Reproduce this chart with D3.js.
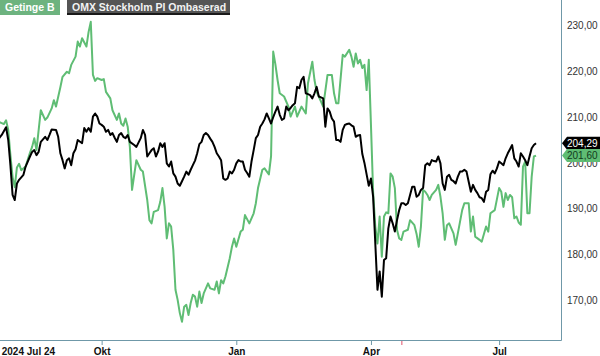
<!DOCTYPE html>
<html>
<head>
<meta charset="utf-8">
<script src="https://d3js.org/d3.v7.min.js"></script>
<style>
  body { margin: 0; background: #fff; }
  svg { display: block; font-family: "Liberation Sans", Arial, sans-serif; }
</style>
</head>
<body>
<div id="chart"></div>
<script>
// trading days closed in Stockholm within the period
const holidays = ['2024-12-24', '2024-12-25', '2024-12-26', '2024-12-31', '2025-01-01', '2025-01-06',
  '2025-04-18', '2025-04-21', '2025-05-01', '2025-05-29', '2025-06-06', '2025-06-20']

const tickDates = ['2024-07-24', '2024-10-01', '2025-01-02', '2025-04-01', '2025-07-01']
const tickLabels = ['2024 Jul 24', 'Okt', 'Jan', 'Apr', 'Jul']
const yTicks = [170, 180, 190, 200, 210, 220, 230]
const eventDates = ['2025-04-23']

const seriesNames = ['Getinge B', 'OMX Stockholm PI Ombaserad']

// Getinge B (SEK)
const getinge = [
  ['2024-07-24', 209.2], ['2024-07-26', 208.9], ['2024-07-29', 208.7], ['2024-07-30', 208.5], ['2024-07-31', 209.3],
  ['2024-08-01', 207.2], ['2024-08-02', 201.7], ['2024-08-05', 196.9], ['2024-08-06', 194.7], ['2024-08-07', 199.0],
  ['2024-08-08', 199.8], ['2024-08-09', 198.4], ['2024-08-13', 199.2], ['2024-08-15', 202.2], ['2024-08-16', 203.5],
  ['2024-08-19', 205.4], ['2024-08-20', 202.8], ['2024-08-22', 211.5], ['2024-08-26', 209.4], ['2024-08-27', 209.9],
  ['2024-08-29', 211.9], ['2024-08-30', 213.7], ['2024-09-02', 212.3], ['2024-09-04', 216.5], ['2024-09-05', 218.8],
  ['2024-09-09', 219.9], ['2024-09-10', 219.6], ['2024-09-11', 221.4], ['2024-09-13', 223.2], ['2024-09-16', 226.5],
  ['2024-09-17', 225.4], ['2024-09-18', 227.2], ['2024-09-20', 225.4], ['2024-09-23', 228.6], ['2024-09-24', 230.8],
  ['2024-09-25', 219.2], ['2024-09-26', 217.9], ['2024-09-27', 218.5], ['2024-10-01', 218.1], ['2024-10-02', 218.3],
  ['2024-10-03', 215.5], ['2024-10-07', 214.1], ['2024-10-08', 211.5], ['2024-10-10', 209.4], ['2024-10-11', 210.8],
  ['2024-10-14', 208.6], ['2024-10-15', 208.1], ['2024-10-16', 209.7], ['2024-10-17', 207.9], ['2024-10-18', 203.5],
  ['2024-10-21', 194.1], ['2024-10-23', 200.6], ['2024-10-25', 198.5], ['2024-10-28', 198.1], ['2024-10-30', 191.9],
  ['2024-10-31', 187.5], ['2024-11-01', 186.8], ['2024-11-04', 189.3], ['2024-11-06', 189.7], ['2024-11-07', 191.5],
  ['2024-11-08', 194.5], ['2024-11-11', 190.4], ['2024-11-12', 183.5], ['2024-11-13', 186.8], ['2024-11-14', 186.1],
  ['2024-11-15', 181.0], ['2024-11-18', 172.3], ['2024-11-19', 170.1], ['2024-11-20', 167.2], ['2024-11-21', 165.3],
  ['2024-11-22', 168.6], ['2024-11-25', 169.0], ['2024-11-26', 166.8], ['2024-11-27', 169.4], ['2024-11-28', 171.2],
  ['2024-11-29', 170.8], ['2024-12-02', 168.6], ['2024-12-03', 171.9], ['2024-12-04', 169.4], ['2024-12-05', 171.5],
  ['2024-12-09', 173.7], ['2024-12-10', 172.6], ['2024-12-12', 172.3], ['2024-12-13', 174.1], ['2024-12-16', 171.5],
  ['2024-12-17', 174.4], ['2024-12-18', 173.7], ['2024-12-19', 175.2], ['2024-12-23', 179.2], ['2024-12-27', 181.7],
  ['2024-12-30', 183.5], ['2025-01-02', 181.7], ['2025-01-07', 185.0], ['2025-01-08', 185.4], ['2025-01-09', 188.6],
  ['2025-01-13', 186.8], ['2025-01-15', 189.0], ['2025-01-16', 191.2], ['2025-01-17', 194.5], ['2025-01-21', 198.5],
  ['2025-01-22', 198.8], ['2025-01-24', 197.5], ['2025-01-27', 201.4], ['2025-01-28', 224.3], ['2025-01-29', 221.5],
  ['2025-01-30', 218.1], ['2025-01-31', 215.2], ['2025-02-04', 214.5], ['2025-02-06', 212.3], ['2025-02-07', 210.1],
  ['2025-02-11', 212.3], ['2025-02-12', 210.1], ['2025-02-14', 212.3], ['2025-02-18', 210.8], ['2025-02-19', 217.4],
  ['2025-02-21', 222.1], ['2025-02-24', 218.1], ['2025-02-25', 215.5], ['2025-02-27', 213.4], ['2025-02-28', 212.3],
  ['2025-03-04', 219.2], ['2025-03-06', 219.2], ['2025-03-07', 215.2], ['2025-03-10', 213.0], ['2025-03-11', 213.0],
  ['2025-03-13', 223.6], ['2025-03-14', 223.2], ['2025-03-18', 224.7], ['2025-03-19', 223.2], ['2025-03-20', 221.0],
  ['2025-03-21', 223.9], ['2025-03-24', 221.7], ['2025-03-25', 222.5], ['2025-03-26', 220.7], ['2025-03-27', 221.4],
  ['2025-03-28', 215.9], ['2025-03-31', 222.5], ['2025-04-01', 208.3], ['2025-04-02', 193.6], ['2025-04-03', 186.1],
  ['2025-04-04', 182.4], ['2025-04-07', 188.3], ['2025-04-08', 179.5], ['2025-04-09', 188.3], ['2025-04-10', 189.2],
  ['2025-04-11', 189.0], ['2025-04-14', 197.7], ['2025-04-15', 197.0], ['2025-04-16', 194.5], ['2025-04-17', 185.4],
  ['2025-04-22', 183.5], ['2025-04-23', 183.2], ['2025-04-24', 185.0], ['2025-04-28', 185.4], ['2025-04-29', 187.5],
  ['2025-05-02', 186.4], ['2025-05-05', 184.5], ['2025-05-06', 181.7], ['2025-05-07', 186.1], ['2025-05-08', 194.1],
  ['2025-05-09', 193.7], ['2025-05-12', 193.0], ['2025-05-13', 191.9], ['2025-05-14', 193.0], ['2025-05-16', 194.1],
  ['2025-05-19', 195.2], ['2025-05-20', 192.6], ['2025-05-21', 189.0], ['2025-05-22', 183.2], ['2025-05-23', 186.4],
  ['2025-05-26', 186.8], ['2025-05-28', 184.6], ['2025-05-30', 182.1], ['2025-06-02', 184.6], ['2025-06-04', 189.7],
  ['2025-06-05', 191.2], ['2025-06-10', 191.2], ['2025-06-11', 185.0], ['2025-06-12', 188.3], ['2025-06-13', 183.9],
  ['2025-06-17', 183.2], ['2025-06-18', 182.8], ['2025-06-23', 186.1], ['2025-06-24', 185.0], ['2025-06-25', 189.0],
  ['2025-06-27', 189.7], ['2025-07-01', 194.5], ['2025-07-02', 193.7], ['2025-07-03', 190.4], ['2025-07-04', 193.4],
  ['2025-07-07', 191.9], ['2025-07-08', 193.0], ['2025-07-09', 192.5], ['2025-07-10', 187.9], ['2025-07-11', 188.3],
  ['2025-07-14', 187.0], ['2025-07-15', 186.5], ['2025-07-16', 199.2], ['2025-07-17', 200.3], ['2025-07-18', 189.0],
  ['2025-07-21', 189.0], ['2025-07-22', 197.0], ['2025-07-23', 201.4], ['2025-07-24', 201.6]
]

// OMX Stockholm PI, rebased to Getinge
const omx = [
  ['2024-07-24', 204.5], ['2024-07-26', 205.5], ['2024-07-29', 206.1], ['2024-07-31', 207.8], ['2024-08-01', 205.0],
  ['2024-08-02', 199.5], ['2024-08-05', 193.0], ['2024-08-06', 191.9], ['2024-08-07', 195.5], ['2024-08-08', 196.3],
  ['2024-08-12', 197.4], ['2024-08-13', 199.2], ['2024-08-15', 201.4], ['2024-08-16', 202.4], ['2024-08-19', 202.8],
  ['2024-08-20', 201.7], ['2024-08-21', 202.4], ['2024-08-22', 204.6], ['2024-08-26', 205.7], ['2024-08-27', 205.0],
  ['2024-08-28', 206.1], ['2024-08-29', 207.3], ['2024-09-02', 207.2], ['2024-09-03', 205.7], ['2024-09-04', 202.1],
  ['2024-09-05', 200.6], ['2024-09-06', 198.8], ['2024-09-09', 200.6], ['2024-09-10', 201.0], ['2024-09-11', 199.5],
  ['2024-09-12', 202.1], ['2024-09-13', 203.0], ['2024-09-16', 205.0], ['2024-09-18', 204.3], ['2024-09-19', 207.6],
  ['2024-09-20', 206.8], ['2024-09-23', 207.6], ['2024-09-24', 206.8], ['2024-09-25', 210.1], ['2024-09-26', 210.8],
  ['2024-09-27', 210.1], ['2024-09-30', 208.6], ['2024-10-01', 208.3], ['2024-10-02', 207.9], ['2024-10-03', 206.8],
  ['2024-10-04', 207.2], ['2024-10-07', 206.1], ['2024-10-08', 206.5], ['2024-10-09', 205.5], ['2024-10-10', 204.6],
  ['2024-10-11', 206.1], ['2024-10-14', 206.5], ['2024-10-15', 205.7], ['2024-10-16', 205.4], ['2024-10-17', 206.1],
  ['2024-10-18', 204.6], ['2024-10-22', 203.9], ['2024-10-23', 203.5], ['2024-10-25', 205.4], ['2024-10-28', 207.2],
  ['2024-10-29', 206.1], ['2024-10-30', 201.4], ['2024-10-31', 202.1], ['2024-11-01', 202.8], ['2024-11-04', 203.2],
  ['2024-11-05', 201.4], ['2024-11-06', 202.5], ['2024-11-07', 204.3], ['2024-11-08', 203.5], ['2024-11-11', 204.3],
  ['2024-11-12', 199.9], ['2024-11-13', 199.2], ['2024-11-14', 200.3], ['2024-11-15', 197.7], ['2024-11-18', 197.0],
  ['2024-11-19', 195.5], ['2024-11-20', 195.0], ['2024-11-21', 196.0], ['2024-11-22', 197.0], ['2024-11-25', 198.1],
  ['2024-11-26', 197.4], ['2024-11-27', 198.5], ['2024-11-28', 199.5], ['2024-11-29', 200.5], ['2024-12-02', 202.1],
  ['2024-12-03', 204.1], ['2024-12-04', 204.6], ['2024-12-05', 206.1], ['2024-12-06', 206.5], ['2024-12-09', 206.1],
  ['2024-12-10', 205.3], ['2024-12-11', 204.6], ['2024-12-12', 203.5], ['2024-12-13', 202.1], ['2024-12-16', 201.4],
  ['2024-12-17', 200.6], ['2024-12-18', 196.6], ['2024-12-19', 196.3], ['2024-12-20', 196.6], ['2024-12-23', 198.1],
  ['2024-12-27', 197.7], ['2024-12-30', 198.5], ['2025-01-02', 199.9], ['2025-01-03', 200.6], ['2025-01-07', 200.3],
  ['2025-01-08', 200.3], ['2025-01-09', 198.5], ['2025-01-10', 197.8], ['2025-01-13', 197.0], ['2025-01-14', 200.3],
  ['2025-01-15', 202.8], ['2025-01-16', 205.4], ['2025-01-17', 206.1], ['2025-01-20', 207.9], ['2025-01-21', 208.6],
  ['2025-01-22', 209.5], ['2025-01-23', 210.8], ['2025-01-24', 209.7], ['2025-01-27', 208.6], ['2025-01-28', 210.0],
  ['2025-01-29', 211.2], ['2025-01-30', 212.3], ['2025-01-31', 210.5], ['2025-02-03', 209.4], ['2025-02-04', 209.7],
  ['2025-02-05', 212.3], ['2025-02-06', 211.5], ['2025-02-07', 212.0], ['2025-02-10', 212.6], ['2025-02-11', 213.0],
  ['2025-02-12', 216.6], ['2025-02-13', 216.3], ['2025-02-14', 218.1], ['2025-02-17', 218.8], ['2025-02-18', 215.2],
  ['2025-02-19', 215.0], ['2025-02-20', 214.8], ['2025-02-21', 214.1], ['2025-02-24', 215.2], ['2025-02-25', 216.6],
  ['2025-02-26', 214.5], ['2025-02-27', 214.3], ['2025-02-28', 214.1], ['2025-03-03', 207.9], ['2025-03-04', 211.9],
  ['2025-03-05', 211.2], ['2025-03-06', 209.7], ['2025-03-07', 209.0], ['2025-03-10', 205.0], ['2025-03-11', 205.0],
  ['2025-03-12', 204.6], ['2025-03-13', 207.2], ['2025-03-14', 208.3], ['2025-03-17', 208.5], ['2025-03-18', 208.6],
  ['2025-03-19', 208.2], ['2025-03-20', 207.9], ['2025-03-21', 205.7], ['2025-03-24', 206.0], ['2025-03-25', 206.1],
  ['2025-03-26', 202.0], ['2025-03-27', 200.0], ['2025-03-28', 197.5], ['2025-03-31', 195.0], ['2025-04-01', 196.6],
  ['2025-04-02', 192.6], ['2025-04-03', 182.4], ['2025-04-04', 172.3], ['2025-04-07', 176.3], ['2025-04-08', 170.8],
  ['2025-04-09', 178.8], ['2025-04-10', 179.2], ['2025-04-11', 185.7], ['2025-04-14', 188.3], ['2025-04-15', 186.8],
  ['2025-04-16', 185.0], ['2025-04-17', 187.5], ['2025-04-22', 189.7], ['2025-04-23', 191.2], ['2025-04-24', 191.2],
  ['2025-04-25', 190.8], ['2025-04-28', 191.2], ['2025-04-29', 193.0], ['2025-04-30', 194.8], ['2025-05-02', 194.8],
  ['2025-05-05', 192.6], ['2025-05-06', 193.0], ['2025-05-07', 194.1], ['2025-05-08', 194.5], ['2025-05-09', 199.5],
  ['2025-05-12', 199.9], ['2025-05-13', 199.5], ['2025-05-14', 200.6], ['2025-05-15', 200.4], ['2025-05-16', 200.3],
  ['2025-05-19', 201.4], ['2025-05-20', 199.9], ['2025-05-21', 195.5], ['2025-05-22', 194.1], ['2025-05-23', 197.0],
  ['2025-05-26', 197.4], ['2025-05-27', 196.3], ['2025-05-28', 196.0], ['2025-05-30', 195.5], ['2025-06-02', 197.0],
  ['2025-06-03', 198.1], ['2025-06-04', 198.1], ['2025-06-05', 198.5], ['2025-06-09', 198.1], ['2025-06-10', 195.9],
  ['2025-06-11', 193.7], ['2025-06-12', 195.2], ['2025-06-13', 194.1], ['2025-06-16', 193.4], ['2025-06-17', 192.5],
  ['2025-06-18', 192.3], ['2025-06-19', 191.5], ['2025-06-23', 193.7], ['2025-06-24', 194.1], ['2025-06-25', 197.5],
  ['2025-06-26', 198.3], ['2025-06-27', 197.7], ['2025-06-30', 198.8], ['2025-07-01', 200.3], ['2025-07-02', 199.9],
  ['2025-07-03', 199.5], ['2025-07-04', 201.0], ['2025-07-07', 202.1], ['2025-07-08', 203.0], ['2025-07-09', 203.9],
  ['2025-07-10', 201.0], ['2025-07-11', 200.3], ['2025-07-14', 199.2], ['2025-07-15', 202.1], ['2025-07-16', 201.4],
  ['2025-07-17', 200.6], ['2025-07-18', 199.5], ['2025-07-21', 201.4], ['2025-07-22', 203.2], ['2025-07-23', 203.9],
  ['2025-07-24', 204.29]
]

;(() => {
  let svg = null
  let plot = null
  let xScale = null
  let yScale = null
  let days = []

  const width = 600
  const height = 356
  const plotW = 561
  const plotH = 340
  const green = '#5fbd74'
  const axisColor = '#6f98a8'
  const svFormat = d3.formatLocale({decimal: ',', thousands: ' ', grouping: [3], currency: ['', ' kr']}).format(',.2f')

  const init = () => {
    // börsdagar: vardagar utom helgdagar
    const fmt = d3.utcFormat('%Y-%m-%d')
    days = d3.utcDays(new Date(Date.UTC(2024, 6, 24)), new Date(Date.UTC(2025, 7, 12)))
      .filter(d => d.getUTCDay() !== 0 && d.getUTCDay() !== 6)
      .map(fmt)
      .filter(d => !holidays.includes(d))

    svg = d3.select('#chart')
      .append('svg')
      .attr('width', width)
      .attr('height', height)

    svg.append('defs').append('clipPath').attr('id', 'clip')
      .append('rect').attr('x', 0).attr('y', 0).attr('width', plotW).attr('height', plotH)

    xScale = d3.scalePoint()
      .domain(days)
      .range([-4.8, -4.8 + (days.length - 1) * 2.172])
    yScale = d3.scaleLinear()
      .domain([170, 230])
      .range([300.3, 25.5])
  }

  const drawAxis = () => {
    // y-axel till höger
    const yAxis = d3.axisRight(yScale)
      .tickValues(yTicks)
      .tickSize(0)
      .tickPadding(6)
      .tickFormat(svFormat)
    const gy = svg.append('g')
      .attr('transform', `translate(${plotW}, 0)`)
      .call(yAxis)
    gy.select('.domain').remove()
    gy.selectAll('text')
      .attr('fill', '#333')
      .style('font-size', '10px')

    const xAxis = d3.axisBottom(xScale)
      .tickValues(tickDates)
      .tickSize(5)
      .tickPadding(3)
      .tickFormat((d, i) => tickLabels[i])
    const gx = svg.append('g')
      .attr('transform', `translate(0, ${plotH})`)
      .call(xAxis)
    gx.select('.domain').remove()
    gx.selectAll('line').attr('stroke', axisColor)
    gx.selectAll('text')
      .attr('fill', '#111')
      .style('font-size', '10px')
      .style('font-weight', 'bold')
    gx.selectAll('.tick')
      .filter((d, i) => i === 0)
      .select('text')
      .attr('text-anchor', 'start')
      .attr('x', 6)

    gx.selectAll('.event')
      .data(eventDates)
      .join('line')
      .attr('class', 'event')
      .attr('x1', d => xScale(d) + 0.5)
      .attr('x2', d => xScale(d) + 0.5)
      .attr('y1', 0)
      .attr('y2', 5)
      .attr('stroke', '#e0506a')

    // ramen
    svg.append('path')
      .attr('d', `M0,${plotH + 0.5}H${plotW + 0.5}V0`)
      .attr('fill', 'none')
      .attr('stroke', axisColor)
  }

  const drawLines = () => {
    plot = svg.append('g').attr('clip-path', 'url(#clip)')
    const line = d3.line()
      .x(d => xScale(d[0]))
      .y(d => yScale(d[1]))

    plot.append('path')
      .datum(getinge)
      .attr('d', line)
      .attr('fill', 'none')
      .attr('stroke', green)
      .attr('stroke-width', 2)
      .attr('stroke-linejoin', 'round')

    plot.append('path')
      .datum(omx)
      .attr('d', line)
      .attr('fill', 'none')
      .attr('stroke', '#000')
      .attr('stroke-width', 2)
      .attr('stroke-linejoin', 'round')
  }

  const drawLabels = () => {
    // slutvärden vid högra axeln
    const ends = [
      {v: omx[omx.length - 1][1], bg: '#000', fg: '#fff'},
      {v: getinge[getinge.length - 1][1], bg: green, fg: '#123a1c'}
    ]
    const g = svg.append('g')
    ends.forEach(e => {
      const y = yScale(e.v)
      g.append('path')
        .attr('d', `M${plotW + 1},${y} L${plotW + 6},${y - 6.5} H${width} V${y + 6.5} H${plotW + 6} Z`)
        .attr('fill', e.bg)
      g.append('text')
        .attr('x', plotW + 6)
        .attr('y', y + 3.6)
        .attr('fill', e.fg)
        .style('font-size', '10px')
        .text(svFormat(e.v))
    })

    // legend upptill
    const leg = svg.append('g')
    leg.append('rect').attr('x', 0).attr('y', 0).attr('width', 60).attr('height', 15).attr('fill', '#6db37f')
    leg.append('text').attr('x', 5).attr('y', 11).attr('fill', '#fff')
      .style('font-size', '10.5px').style('font-weight', 'bold').text(seriesNames[0])
    leg.append('rect').attr('x', 67).attr('y', 0).attr('width', 163).attr('height', 15).attr('fill', '#555')
    leg.append('rect').attr('x', 67).attr('y', 13).attr('width', 163).attr('height', 2).attr('fill', '#1a1a1a')
    leg.append('text').attr('x', 72).attr('y', 11).attr('fill', '#f2f2f2')
      .style('font-size', '10.5px').style('font-weight', 'bold').text(seriesNames[1])
  }

  init()
  drawLines()
  drawAxis()
  drawLabels()
})()
</script>
</body>
</html>
